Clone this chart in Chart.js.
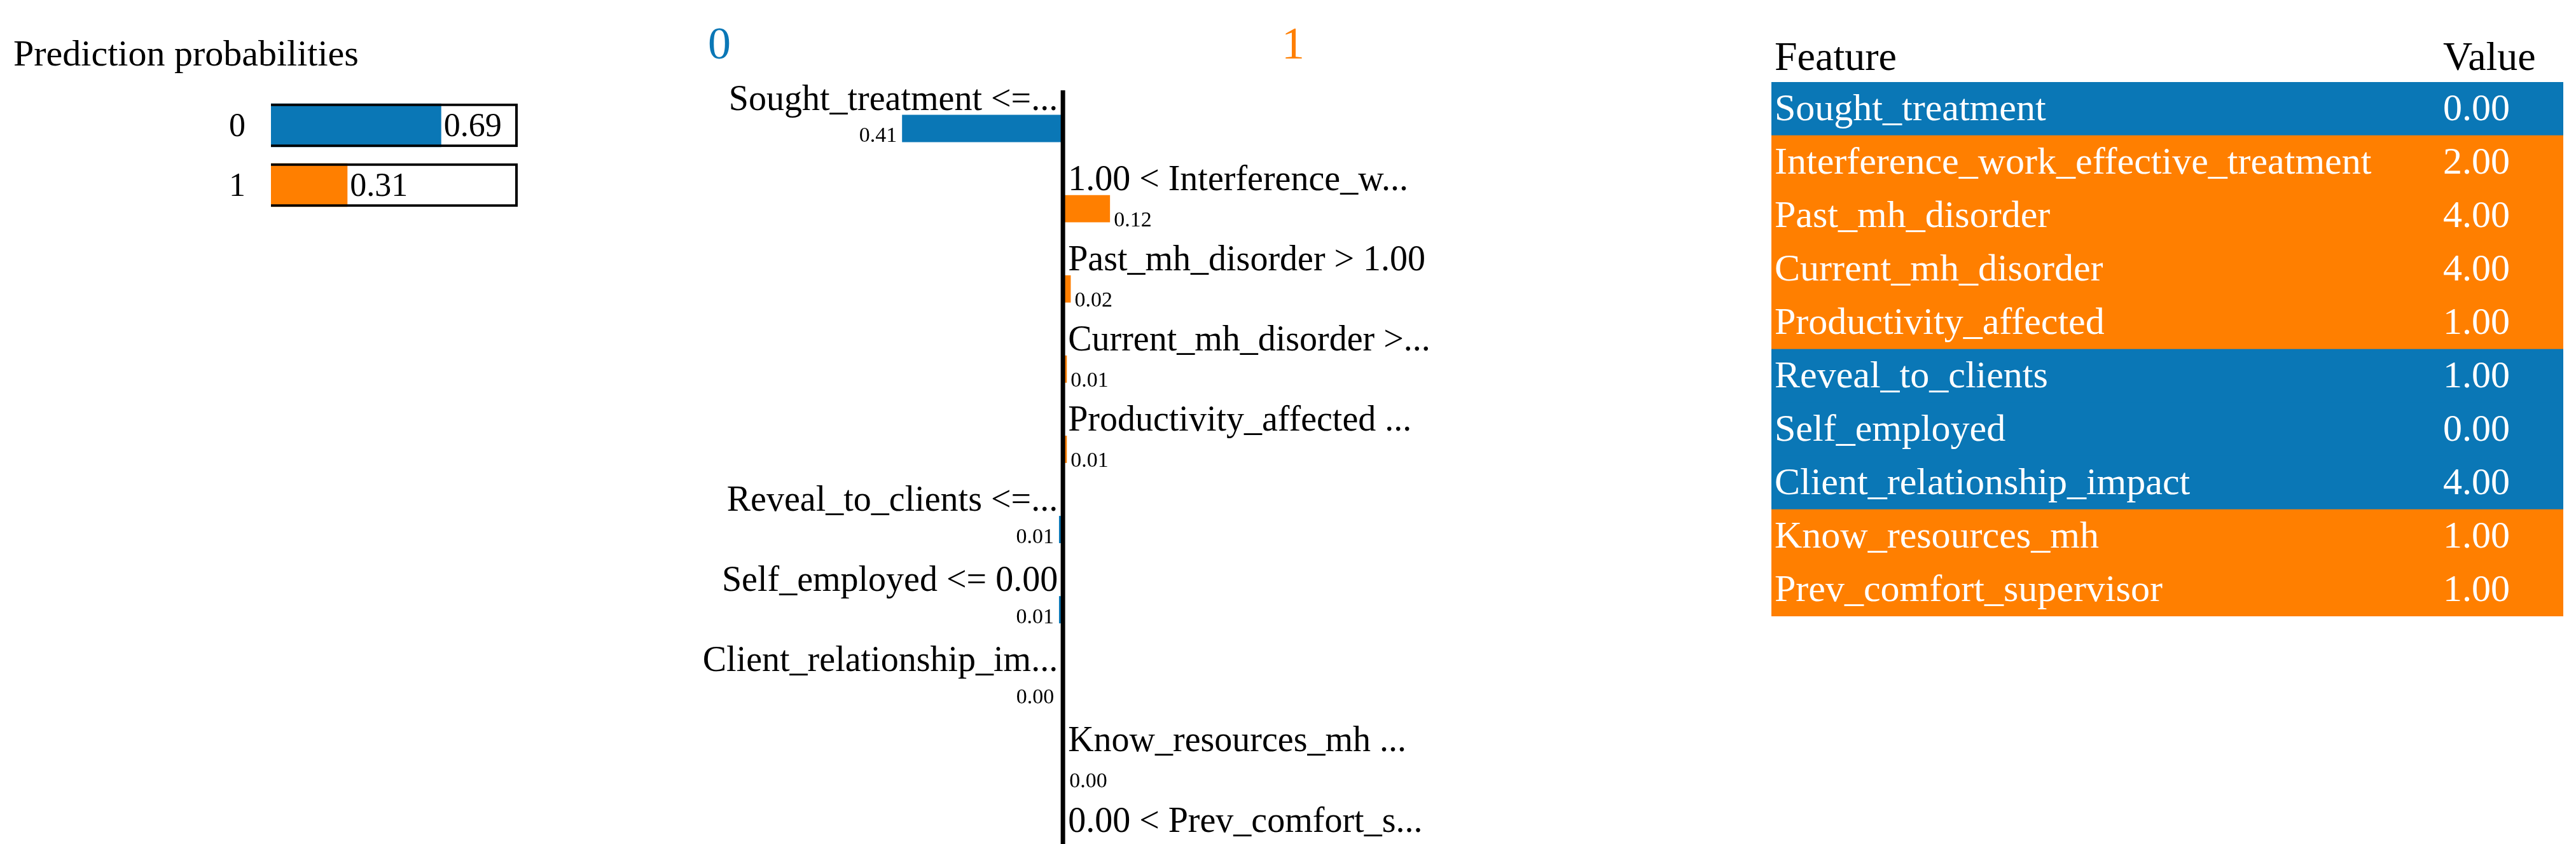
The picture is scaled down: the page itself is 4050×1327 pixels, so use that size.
<!DOCTYPE html>
<html>
<head>
<meta charset="utf-8">
<script src="https://cdn.jsdelivr.net/npm/chart.js@4/dist/chart.umd.min.js"></script>
<style>
  body { margin: 0; width: 4050px; height: 1327px; overflow: hidden; background: #fff; position: relative; }
  canvas { position: absolute; top: 0; }
</style>
</head>
<body>
<canvas id="probChart" width="900" height="400" style="left:0"></canvas>
<canvas id="expChart" width="1300" height="1400" style="left:1050px"></canvas>
<canvas id="tableChart" width="1350" height="1327" style="left:2700px"></canvas>
<script>
const BLUE = '#0a77b6', ORANGE = '#ff7f00';
const SERIF = '"Liberation Serif", "DejaVu Serif", serif';

// prediction probabilities
const classes = ['0', '1'];
const probs = [0.69, 0.31];

// explanation weights (negative = class 0, positive = class 1)
const ruleLabels = ['Sought_treatment <=...', '1.00 < Interference_w...', 'Past_mh_disorder > 1.00',
  'Current_mh_disorder >...', 'Productivity_affected ...', 'Reveal_to_clients <=...',
  'Self_employed <= 0.00', 'Client_relationship_im...', 'Know_resources_mh ...', '0.00 < Prev_comfort_s...'];
const weights = [-0.41, 0.12, 0.02, 0.01, 0.01, -0.01, -0.01, -0.004, 0.004, 0.003];

// feature value table
const featureNames = ['Sought_treatment', 'Interference_work_effective_treatment', 'Past_mh_disorder',
  'Current_mh_disorder', 'Productivity_affected', 'Reveal_to_clients', 'Self_employed',
  'Client_relationship_impact', 'Know_resources_mh', 'Prev_comfort_supervisor'];
const featureValues = ['0.00', '2.00', '4.00', '4.00', '1.00', '1.00', '0.00', '4.00', '1.00', '1.00'];

Chart.defaults.devicePixelRatio = 1;
Chart.defaults.animation = false;

const hiddenScales = (xmin, xmax) => ({
  x: { display: false, min: xmin, max: xmax },
  y: { display: false }
});

// --- probabilities ---
new Chart(document.getElementById('probChart'), {
  type: 'bar',
  data: {
    labels: classes,
    datasets: [
      { data: probs, backgroundColor: [BLUE, ORANGE], grouped: false, order: 2,
        barPercentage: 0.73, categoryPercentage: 1 },
      { data: classes.map(() => 1), backgroundColor: 'rgba(0,0,0,0)', borderColor: '#000',
        borderWidth: 4, grouped: false, order: 1, barPercentage: 0.73, categoryPercentage: 1 }
    ]
  },
  options: {
    indexAxis: 'y', responsive: false,
    layout: { padding: { left: 426, right: 86, top: 150, bottom: 62 } },
    scales: hiddenScales(0, 1),
    plugins: { legend: { display: false }, tooltip: { enabled: false } }
  },
  plugins: [{
    id: 'probText',
    afterDraw(chart) {
      const ctx = chart.ctx, meta = chart.getDatasetMeta(0);
      ctx.save();
      ctx.fillStyle = '#000';
      ctx.font = '58px ' + SERIF;
      ctx.textBaseline = 'alphabetic';
      ctx.fillText('Prediction probabilities', 21, 103);
      ctx.font = '52px ' + SERIF;
      ctx.textBaseline = 'middle';
      meta.data.forEach((bar, i) => {
        ctx.textAlign = 'right';
        ctx.fillText(classes[i], chart.chartArea.left - 40, bar.y + 3);
        ctx.textAlign = 'left';
        ctx.fillText(probs[i].toFixed(2), bar.x + 4, bar.y + 3);
      });
      ctx.restore();
    }
  }]
});

// --- explanation ---
new Chart(document.getElementById('expChart'), {
  type: 'bar',
  data: {
    labels: ruleLabels,
    datasets: [{ data: weights, backgroundColor: weights.map(w => w < 0 ? BLUE : ORANGE),
      barPercentage: 0.34, categoryPercentage: 1 }]
  },
  options: {
    indexAxis: 'y', responsive: false,
    layout: { padding: { left: 251, right: 62, top: 139, bottom: 0 } },
    scales: hiddenScales(-0.6, 1.0),
    plugins: { legend: { display: false }, tooltip: { enabled: false } }
  },
  plugins: [{
    id: 'expText',
    afterDraw(chart) {
      const ctx = chart.ctx, meta = chart.getDatasetMeta(0);
      const x0 = chart.scales.x.getPixelForValue(0);
      const last = meta.data[meta.data.length - 1];
      ctx.save();
      ctx.strokeStyle = '#000';
      ctx.lineWidth = 7;
      ctx.beginPath();
      ctx.moveTo(x0, 142);
      ctx.lineTo(x0, last.y + last.height / 2);
      ctx.stroke();
      ctx.textBaseline = 'alphabetic';
      ctx.font = '72px ' + SERIF;
      ctx.textAlign = 'center';
      ctx.fillStyle = BLUE;
      ctx.fillText(classes[0], 81, 92);
      ctx.fillStyle = ORANGE;
      ctx.fillText(classes[1], 983, 92);
      ctx.fillStyle = '#000';
      meta.data.forEach((bar, i) => {
        const top = bar.y - bar.height / 2, bottom = bar.y + bar.height / 2;
        const neg = weights[i] < 0;
        ctx.font = '56px ' + SERIF;
        ctx.textAlign = neg ? 'right' : 'left';
        ctx.fillText(ruleLabels[i], neg ? x0 - 8 : x0 + 8, top - 8);
        ctx.font = '34px ' + SERIF;
        const v = Math.abs(weights[i]).toFixed(2);
        if (neg) ctx.fillText(v, Math.min(bar.x, x0 - 6) - 8, bottom);
        else ctx.fillText(v, Math.max(bar.x, x0 + 4) + 6, bottom + 6);
      });
      ctx.restore();
    }
  }]
});

// --- feature / value table ---
new Chart(document.getElementById('tableChart'), {
  type: 'bar',
  data: {
    labels: featureNames,
    datasets: [{ data: featureNames.map(() => 1),
      backgroundColor: weights.map(w => w < 0 ? BLUE : ORANGE),
      barPercentage: 1, categoryPercentage: 1 }]
  },
  options: {
    indexAxis: 'y', responsive: false,
    layout: { padding: { left: 85, right: 20, top: 129, bottom: 358 } },
    scales: hiddenScales(0, 1),
    plugins: { legend: { display: false }, tooltip: { enabled: false } }
  },
  plugins: [{
    id: 'tableText',
    afterDraw(chart) {
      const ctx = chart.ctx, meta = chart.getDatasetMeta(0);
      ctx.save();
      ctx.textBaseline = 'alphabetic';
      ctx.fillStyle = '#000';
      ctx.font = '64px ' + SERIF;
      ctx.fillText('Feature', 90, 110);
      ctx.fillText('Value', 1141, 110);
      ctx.fillStyle = '#fff';
      ctx.font = '60px ' + SERIF;
      ctx.textBaseline = 'middle';
      meta.data.forEach((bar, i) => {
        ctx.fillText(featureNames[i], 90, bar.y + 2);
        ctx.fillText(featureValues[i], 1141, bar.y + 2);
      });
      ctx.restore();
    }
  }]
});
</script>
</body>
</html>
